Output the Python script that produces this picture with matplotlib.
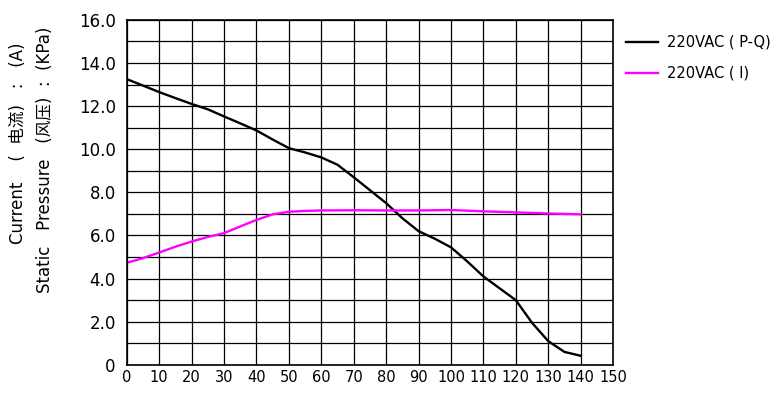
import matplotlib.pyplot as plt

plt.rcParams['font.family'] = ['DejaVu Sans', 'Noto Sans CJK SC']

# air flow (x) readings
pq_x = [0, 5, 10, 15, 20, 25, 30, 35, 40, 45, 50, 55, 60, 65, 70, 75, 80, 85,
        90, 95, 100, 105, 110, 115, 120, 125, 130, 135, 140]
pq_y = [13.25, 12.95, 12.65, 12.37, 12.1, 11.85, 11.52, 11.2, 10.87, 10.45, 10.05, 9.85,
        9.62, 9.28, 8.7, 8.1, 7.5, 6.8, 6.2, 5.85, 5.45, 4.8, 4.1, 3.55, 3.0, 1.95, 1.1, 0.6, 0.42]

i_x = [0, 5, 10, 15, 20, 25, 30, 35, 40, 45, 50, 55, 60, 70, 80, 90, 100, 110, 120, 130, 140]
i_y = [4.73, 4.95, 5.21, 5.48, 5.72, 5.93, 6.11, 6.42, 6.72, 6.98, 7.1, 7.14, 7.16, 7.17, 7.16,
       7.16, 7.18, 7.12, 7.07, 7.02, 6.98]

xticks = list(range(0, 151, 10))
yticks = [0, 2, 4, 6, 8, 10, 12, 14, 16]
ytick_labels = ['0'] + ['%.1f' % v for v in yticks[1:]]

fig = plt.figure(figsize=(7.78, 3.97), dpi=100)
ax = fig.add_axes([0.163, 0.081, 0.625, 0.869])

ax.plot(pq_x, pq_y, color='black', lw=1.7, label='220VAC ( P-Q)')
ax.plot(i_x, i_y, color='#ff00ff', lw=1.7, label='220VAC ( I)')

ax.set_xlim(0, 150)
ax.set_ylim(0, 16)
ax.set_xticks(xticks)
ax.set_yticks(yticks)
ax.set_yticklabels(ytick_labels)
ax.set_yticks(range(0, 17), minor=True)
ax.grid(True, which='both', color='black', lw=0.9)
ax.tick_params(which='both', length=0, labelsize=12, pad=8)
ax.tick_params(axis='x', labelsize=10.5, pad=4)
for s in ax.spines.values():
    s.set_linewidth(1.2)

fig.text(0.023, 0.64, 'Current    (  电流)   :   (A)', rotation=90, ha='center', va='center', fontsize=12)
fig.text(0.058, 0.597, 'Static   Pressure   (风压)  :  (KPa)', rotation=90, ha='center', va='center', fontsize=12)

ax.legend(loc='upper left', bbox_to_anchor=(1.0, 0.995), frameon=False, fontsize=10.5,
          handlelength=2.2, handletextpad=0.6, labelspacing=1.1)

fig.savefig('out.png', dpi=100)
